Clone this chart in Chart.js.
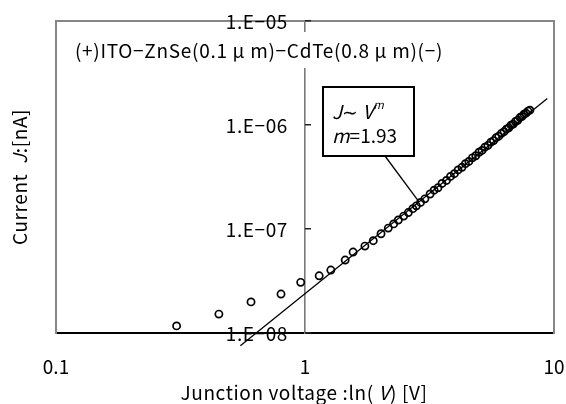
<!DOCTYPE html>
<html>
<head>
<meta charset="utf-8">
<script src="https://cdn.jsdelivr.net/npm/chart.js@4/dist/chart.umd.min.js"></script>
<style>
  html, body { margin: 0; padding: 0; background: #fff; }
</style>
</head>
<body>
<canvas id="chart" width="566" height="404"></canvas>
<script>
'use strict';

// measured J-V points
var voltage = [0.305, 0.451, 0.607, 0.801, 0.961, 1.14, 1.27, 1.45, 1.56, 1.74,
  1.88, 2.02, 2.16, 2.27, 2.37, 2.49, 2.60, 2.71, 2.80, 2.91,
  3.03, 3.18, 3.30, 3.42, 3.55, 3.70, 3.84, 3.98, 4.12, 4.27,
  4.41, 4.55, 4.70, 4.85, 5.00, 5.14, 5.28, 5.43, 5.58, 5.72,
  5.86, 6.00, 6.15, 6.30, 6.44, 6.58, 6.72, 6.86, 7.00, 7.15,
  7.30, 7.44, 7.58, 7.72, 7.86, 8.00];
var current = [1.17e-8, 1.52e-8, 1.99e-8, 2.37e-8, 3.07e-8, 3.55e-8, 4.03e-8, 5.03e-8, 6.0e-8, 6.85e-8,
  7.72e-8, 9.0e-8, 1.02e-7, 1.12e-7, 1.22e-7, 1.33e-7, 1.44e-7, 1.57e-7, 1.67e-7, 1.80e-7,
  1.95e-7, 2.17e-7, 2.36e-7, 2.49e-7, 2.74e-7, 2.93e-7, 3.20e-7, 3.40e-7, 3.70e-7, 3.92e-7,
  4.25e-7, 4.46e-7, 4.83e-7, 5.06e-7, 5.47e-7, 5.70e-7, 6.12e-7, 6.37e-7, 6.83e-7, 7.08e-7,
  7.55e-7, 7.80e-7, 8.31e-7, 8.62e-7, 9.12e-7, 9.40e-7, 9.95e-7, 1.02e-6, 1.08e-6, 1.11e-6,
  1.18e-6, 1.21e-6, 1.27e-6, 1.30e-6, 1.36e-6, 1.39e-6];

// power law fit J ~ V^m
var fitExponent = 1.93;
var fitAnchor = [2.28, 1.17e-7];
var fitRange = [0.55, 9.4];
var calloutTarget = [2.87, 1.82e-7];

var xTicks = [0.1, 1, 10];
var xTickLabels = ['0.1', '1', '10'];
var yTicks = [1e-8, 1e-7, 1e-6, 1e-5];
var yTickLabels = ['1.E\u221208', '1.E\u221207', '1.E\u221206', '1.E\u221205'];

var sampleLabel = '(+)ITO\u2212ZnSe(0.1 \u03bc m)\u2212CdTe(0.8 \u03bc m)(\u2212)';

var family = '"Noto Sans CJK JP", "Noto Sans", sans-serif';
var fontSize = 19;
Chart.defaults.font.family = family;
Chart.defaults.font.size = fontSize;
Chart.defaults.color = '#000';

var xLo = xTicks[0], xHi = xTicks[xTicks.length - 1];
var yLo = yTicks[0], yHi = yTicks[yTicks.length - 1];

var points = voltage.map(function(v, i) {
  return { x: v, y: current[i] };
});
var fitLine = fitRange.map(function(v) {
  return { x: v, y: fitAnchor[1] * Math.pow(v / fitAnchor[0], fitExponent) };
});

// text made of plain / italic / superscript pieces
function runsWidth(c, runs, size, spacing) {
  var w = 0;
  c.letterSpacing = (spacing || 0) + 'px';
  runs.forEach(function(r) {
    var s = r.sup ? size * 0.6 : size;
    c.font = (r.italic ? 'italic ' : '') + s + 'px ' + family;
    w += c.measureText(r.t).width;
  });
  return w;
}

function drawRuns(c, runs, x, y, size, spacing) {
  c.textBaseline = 'middle';
  c.textAlign = 'left';
  c.letterSpacing = (spacing || 0) + 'px';
  runs.forEach(function(r) {
    var s = r.sup ? size * 0.6 : size;
    c.font = (r.italic ? 'italic ' : '') + s + 'px ' + family;
    c.fillText(r.t, x, r.sup ? y - size * 0.38 : y);
    x += c.measureText(r.t).width;
  });
  c.letterSpacing = '0px';
}

// bare scale used only for its border line: one edge of the plot box
function edgeScale(position, min, max) {
  var horizontal = position === 'top';
  return {
    type: 'logarithmic',
    position: position,
    min: min,
    max: max,
    grid: { display: false, drawTicks: false },
    ticks: { display: false },
    border: { display: true, color: '#868686', width: 2 },
    afterFit: function(scale) {
      if (horizontal) { scale.height = 0; } else { scale.width = 0; }
    }
  };
}

var notes = {
  id: 'notes',
  beforeDraw: function(chart) {
    var c = chart.ctx;
    c.save();
    c.fillStyle = '#fff';
    c.fillRect(0, 0, chart.width, chart.height);
    c.restore();
  },
  beforeDatasetsDraw: function(chart) {
    var c = chart.ctx;
    var sx = chart.scales.x, sy = chart.scales.y;
    var axisX = Math.round(sx.getPixelForValue(1));
    var left = sx.getPixelForValue(xLo), top = sy.getPixelForValue(yHi);
    c.save();

    // y axis ticks point into the right half
    c.fillStyle = '#222';
    yTicks.forEach(function(v) {
      var py = Math.round(sy.getPixelForValue(v));
      c.fillRect(axisX, py - 1, 6, 1.5);
    });

    // sample structure label on a white box
    c.fillStyle = '#fff';
    c.fillRect(left + 14, top + 11, 385, 36);
    c.fillStyle = '#000';
    drawRuns(c, [{ t: sampleLabel }], left + 19, top + 30, fontSize, 0.7);

    // y tick labels sit left of the axis drawn at V = 1
    c.font = fontSize + 'px ' + family;
    c.textAlign = 'right';
    c.textBaseline = 'middle';
    c.letterSpacing = '0.6px';
    yTicks.forEach(function(v, i) {
      c.fillText(yTickLabels[i], axisX - 17, sy.getPixelForValue(v) + 1);
    });
    c.restore();
  },
  afterDatasetsDraw: function(chart) {
    var c = chart.ctx;
    var sx = chart.scales.x, sy = chart.scales.y;
    var left = sx.getPixelForValue(xLo);
    var top = sy.getPixelForValue(yHi), bottom = sy.getPixelForValue(yLo);
    c.save();

    // callout for the fit
    var bx = left + 267, by = top + 66, bw = 91, bh = 69;
    c.strokeStyle = '#000';
    c.lineWidth = 1.3;
    c.beginPath();
    c.moveTo(bx + 62, by + bh);
    c.lineTo(sx.getPixelForValue(calloutTarget[0]), sy.getPixelForValue(calloutTarget[1]));
    c.stroke();
    c.fillStyle = '#fff';
    c.fillRect(bx, by, bw, bh);
    c.lineWidth = 2;
    c.strokeRect(bx, by, bw, bh);
    c.fillStyle = '#000';
    drawRuns(c, [{ t: 'J', italic: true }, { t: '\u223c ' }, { t: 'V', italic: true },
      { t: 'm', italic: true, sup: true }], bx + 9, by + 25, fontSize);
    drawRuns(c, [{ t: 'm', italic: true }, { t: '=1.93' }], bx + 9, by + 49, fontSize);

    // axis titles
    var yRuns = [{ t: 'Current  ' }, { t: 'J', italic: true }, { t: ':[nA]' }];
    var yw = runsWidth(c, yRuns, fontSize, 0.6);
    c.translate(20, (top + bottom) / 2);
    c.rotate(-Math.PI / 2);
    drawRuns(c, yRuns, -yw / 2, 0, fontSize, 0.6);
    c.setTransform(1, 0, 0, 1, 0, 0);

    var xRuns = [{ t: 'Junction voltage :ln( ' }, { t: 'V', italic: true }, { t: ') [V]' }];
    var xw = runsWidth(c, xRuns, fontSize, 0.6);
    drawRuns(c, xRuns, 304 - xw / 2, 393, fontSize, 0.6);
    c.restore();
  }
};

var ctx = document.getElementById('chart').getContext('2d');
var chart = new Chart(ctx, {
  type: 'scatter',
  data: {
    datasets: [
      {
        label: 'J',
        data: points,
        xAxisID: 'x',
        yAxisID: 'y',
        showLine: false,
        pointStyle: 'circle',
        pointRadius: 3.6,
        pointBorderWidth: 1.7,
        pointBorderColor: '#000',
        pointBackgroundColor: 'rgba(255,255,255,0)',
        clip: false
      },
      {
        label: 'fit',
        data: fitLine,
        xAxisID: 'x',
        yAxisID: 'y',
        showLine: true,
        borderColor: '#000',
        borderWidth: 1.3,
        pointRadius: 0,
        clip: false
      }
    ]
  },
  options: {
    responsive: false,
    animation: false,
    devicePixelRatio: 1,
    layout: { padding: { left: 56, right: 12, top: 21, bottom: 0 } },
    plugins: {
      legend: { display: false },
      tooltip: { enabled: false }
    },
    scales: {
      x: {
        type: 'logarithmic',
        position: 'bottom',
        min: xLo,
        max: xHi,
        afterBuildTicks: function(scale) {
          scale.ticks = xTicks.map(function(v) { return { value: v }; });
        },
        afterFit: function(scale) { scale.height = 71; },
        grid: { display: true, drawOnChartArea: false, drawTicks: true, tickLength: 21, tickColor: 'rgba(0,0,0,0)' },
        border: { display: true, color: '#000', width: 2 },
        ticks: {
          padding: 1,
          autoSkip: false,
          maxRotation: 0,
          callback: function(v, i) { return xTickLabels[i]; }
        }
      },
      y: {
        type: 'logarithmic',
        position: { x: 1 },
        min: yLo,
        max: yHi,
        afterBuildTicks: function(scale) {
          scale.ticks = yTicks.map(function(v) { return { value: v }; });
        },
        afterFit: function(scale) { scale.width = 0; },
        grid: { drawOnChartArea: false, drawTicks: false },
        border: { color: '#7a7a7a', width: 1.6 },
        ticks: { display: false }
      },
      xTop: edgeScale('top', xLo, xHi),
      yLeft: edgeScale('left', yLo, yHi),
      yRight: edgeScale('right', yLo, yHi)
    }
  },
  plugins: [notes]
});
</script>
</body>
</html>
